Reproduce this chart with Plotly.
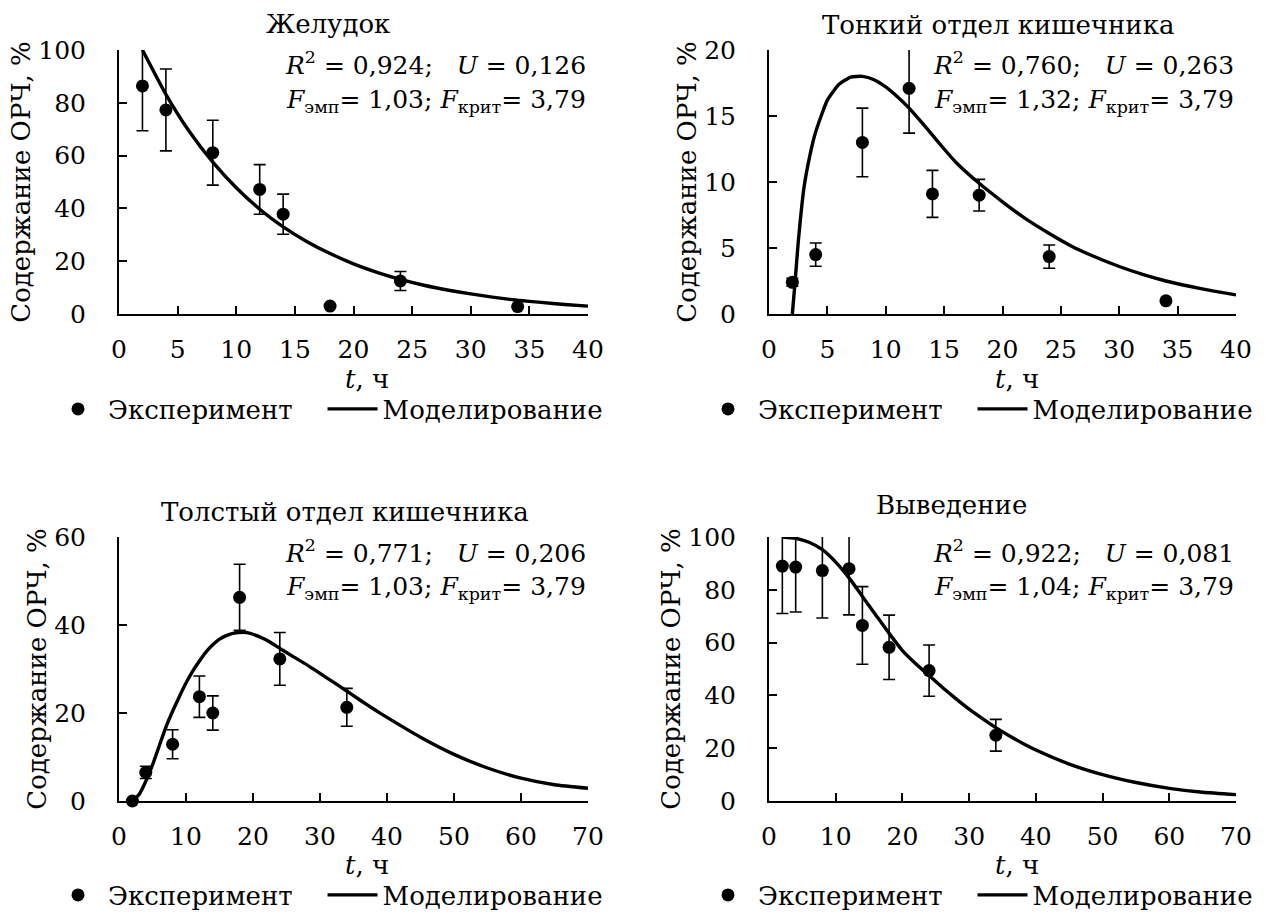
import plotly.graph_objects as go

FONT = "DejaVu Serif"
FS = 26
FS_TICK = 25
FS_STAT = 25

# ---------------- data ----------------
# Panel 1: Желудок
t_exp_1 = [2, 4, 8, 12, 14, 18, 24, 34]
y_exp_1 = [86.4, 77.3, 61.1, 47.2, 37.8, 3.0, 12.5, 2.8]
e_exp_1 = [17.0, 15.5, 12.3, 9.4, 7.6, 0.0, 3.6, 0.0]
t_mod_1 = [2, 4, 6, 8, 10, 12, 14, 16, 18, 20, 22, 24, 26, 28, 30, 32, 34, 36, 38, 40]
y_mod_1 = [100, 83.2, 69.1, 57.5, 47.8, 39.7, 33.0, 27.5, 22.9, 19.0, 15.8, 13.1,
           10.9, 9.1, 7.6, 6.3, 5.2, 4.4, 3.6, 3.0]

# Panel 2: Тонкий отдел кишечника
t_exp_2 = [2, 4, 8, 12, 14, 18, 24, 34]
y_exp_2 = [2.4, 4.5, 13.0, 17.1, 9.1, 9.0, 4.35, 1.0]
e_exp_2 = [0.3, 0.88, 2.6, 3.4, 1.78, 1.2, 0.88, 0.0]
t_mod_2 = [2, 2.25, 2.5, 3, 3.5, 4, 5, 6, 7, 8, 9, 10, 11, 12, 13, 14, 15, 16, 18,
           20, 22, 24, 26, 28, 30, 32, 34, 36, 38, 40]
y_mod_2 = [0, 2.6, 5.4, 9.6, 12.0, 13.8, 16.2, 17.4, 17.95, 18.0, 17.75, 17.2, 16.45,
           15.6, 14.6, 13.55, 12.5, 11.5, 9.9, 8.5, 7.2, 6.1, 5.1, 4.3, 3.6, 3.0, 2.5,
           2.1, 1.75, 1.45]

# Panel 3: Толстый отдел кишечника
t_exp_3 = [2, 4, 8, 12, 14, 18, 24, 34]
y_exp_3 = [0.0, 6.5, 12.9, 23.7, 20.0, 46.3, 32.3, 21.3]
e_exp_3 = [0.0, 1.4, 3.3, 4.7, 3.9, 7.5, 6.0, 4.3]
t_mod_3 = [2, 3, 4, 5, 6, 7, 8, 9, 10, 11, 12, 13, 14, 15, 16, 17, 18, 19, 20, 22, 24,
           26, 28, 30, 32, 34, 36, 38, 40, 45, 50, 55, 60, 65, 70]
y_mod_3 = [0, 1.5, 4.5, 8.2, 12.5, 16.8, 20.4, 23.7, 26.8, 29.5, 31.8, 33.9, 35.5,
           36.8, 37.6, 38.1, 38.3, 38.3, 37.9, 36.6, 34.7, 32.8, 31.0, 29.0, 27.0,
           25.0, 22.9, 20.9, 19.0, 14.5, 10.6, 7.5, 5.2, 3.7, 2.9]

# Panel 4: Выведение
t_exp_4 = [2, 4, 8, 12, 14, 18, 24, 34]
y_exp_4 = [89.0, 88.6, 87.3, 88.0, 66.5, 58.2, 49.4, 24.9]
e_exp_4 = [18.0, 17.0, 18.0, 17.5, 14.7, 12.2, 9.7, 6.0]
t_mod_4 = [2, 4, 6, 8, 10, 12, 14, 16, 18, 20, 22, 24, 26, 28, 30, 32, 34, 36, 38, 40,
           45, 50, 55, 60, 65, 70]
y_mod_4 = [100, 99.5, 98.0, 95.2, 90.5, 84.5, 77.5, 70.5, 63.5, 57.0, 52.0, 47.5,
           43.0, 38.8, 34.8, 31.2, 27.8, 24.7, 21.9, 19.3, 14.0, 10.0, 7.0, 4.8, 3.3, 2.4]

titles = ["Желудок", "Тонкий отдел кишечника", "Толстый отдел кишечника", "Выведение"]
stats_r2 = ["0,924", "0,760", "0,771", "0,922"]
stats_u = ["0,126", "0,263", "0,206", "0,081"]
stats_f = ["1,03", "1,32", "1,03", "1,04"]
f_crit = ["3,79", "3,79", "3,79", "3,79"]
x_ranges = [[0, 40], [0, 40], [0, 70], [0, 70]]
x_dticks = [5, 5, 10, 10]
y_ranges = [[0, 100], [0, 20], [0, 60], [0, 100]]
y_dticks = [20, 5, 20, 20]
x_title = "<i>t</i>, ч"
y_title = "Содержание ОРЧ, %"
leg_exp = "Эксперимент"
leg_mod = "Моделирование"

exp_t = [t_exp_1, t_exp_2, t_exp_3, t_exp_4]
exp_y = [y_exp_1, y_exp_2, y_exp_3, y_exp_4]
exp_e = [e_exp_1, e_exp_2, e_exp_3, e_exp_4]
mod_t = [t_mod_1, t_mod_2, t_mod_3, t_mod_4]
mod_y = [y_mod_1, y_mod_2, y_mod_3, y_mod_4]

# ---------------- layout geometry ----------------
W, H = 1269, 913
def px(x):
    return x / W
def py(y):
    return 1 - y / H

x_dom = [[px(119), px(588)], [px(769), px(1236)], [px(119), px(588)], [px(769), px(1236)]]
y_dom = [[py(314), py(50)], [py(314), py(50)], [py(801), py(537)], [py(801), py(537)]]
title_pos = [(328, 24), (998, 25), (345, 512), (951, 505)]
xtitle_pos = [(367, 379), (1017, 379), (367, 865), (1017, 865)]
legend_pos = [(48, 409), (698, 409), (48, 895), (698, 895)]
PAD = "\u00a0" * 3

fig = go.Figure()
names = ["", "2", "3", "4"]
for i in range(4):
    xa = "x" + names[i]
    ya = "y" + names[i]
    lg = "legend" + names[i]
    fig.add_trace(go.Scatter(
        x=exp_t[i], y=exp_y[i], mode="markers", name=leg_exp + PAD,
        xaxis=xa, yaxis=ya, legend=lg,
        marker=dict(color="black", size=13),
        error_y=dict(type="data", array=exp_e[i], visible=True, color="black",
                     thickness=1.6, width=6),
        cliponaxis=False,
    ))
    fig.add_trace(go.Scatter(
        x=mod_t[i], y=mod_y[i], mode="lines", name=leg_mod,
        xaxis=xa, yaxis=ya, legend=lg,
        line=dict(color="black", width=3.4, shape="spline", smoothing=0.5),
    ))

axis_common = dict(
    showline=True, linecolor="black", linewidth=2, ticks="inside", ticklen=8,
    tickwidth=2, tickcolor="black", showgrid=False, zeroline=False,
    tickfont=dict(family=FONT, size=FS_TICK, color="black"),
)

layout = dict(
    width=W, height=H, margin=dict(l=0, r=0, t=0, b=0, autoexpand=False),
    paper_bgcolor="white", plot_bgcolor="white",
    font=dict(family=FONT, size=FS, color="black"),
    annotations=[],
)
for i in range(4):
    layout["xaxis" + names[i]] = dict(
        axis_common, domain=x_dom[i], range=x_ranges[i], dtick=x_dticks[i],
        anchor="y" + names[i], ticklabelstandoff=12, automargin=False,
    )
    layout["yaxis" + names[i]] = dict(
        axis_common, domain=y_dom[i], range=y_ranges[i], dtick=y_dticks[i],
        anchor="x" + names[i], ticklabelstandoff=26, automargin=False,
        title=dict(text=y_title, font=dict(family=FONT, size=FS), standoff=0),
    )
    lx, ly = legend_pos[i]
    layout["legend" + names[i]] = dict(
        x=px(lx), y=py(ly), xanchor="left", yanchor="middle", orientation="h",
        font=dict(family=FONT, size=FS, color="black"), bgcolor="rgba(0,0,0,0)",
        itemwidth=50,
    )
    tx, ty = title_pos[i]
    layout["annotations"].append(dict(
        text=titles[i], x=px(tx), y=py(ty), xref="paper", yref="paper",
        showarrow=False, xanchor="center", yanchor="middle",
        font=dict(family=FONT, size=FS, color="black"),
    ))
    ax_, ay_ = xtitle_pos[i]
    layout["annotations"].append(dict(
        text=x_title, x=px(ax_), y=py(ay_), xref="paper", yref="paper",
        showarrow=False, xanchor="center", yanchor="middle",
        font=dict(family=FONT, size=FS, color="black"),
    ))
    top = 50 if i < 2 else 537
    right = 588 if i % 2 == 0 else 1236
    layout["annotations"].append(dict(
        text="<i>R</i><sup>2</sup> = " + stats_r2[i] + ";\u00a0\u00a0\u00a0<i>U</i> = " + stats_u[i],
        x=px(right), y=py(top + 14), xref="paper", yref="paper",
        showarrow=False, xanchor="right", yanchor="middle",
        font=dict(family=FONT, size=FS_STAT, color="black"),
    ))
    layout["annotations"].append(dict(
        text="<i>F</i><sub>эмп</sub>= " + stats_f[i] + "; <i>F</i><sub>крит</sub>= " + f_crit[i],
        x=px(right), y=py(top + 51), xref="paper", yref="paper",
        showarrow=False, xanchor="right", yanchor="middle",
        font=dict(family=FONT, size=FS_STAT, color="black"),
    ))

fig.update_layout(**layout)
fig.write_html("out.html", config={"displayModeBar": False},
               post_script="document.body.style.margin='0';")
